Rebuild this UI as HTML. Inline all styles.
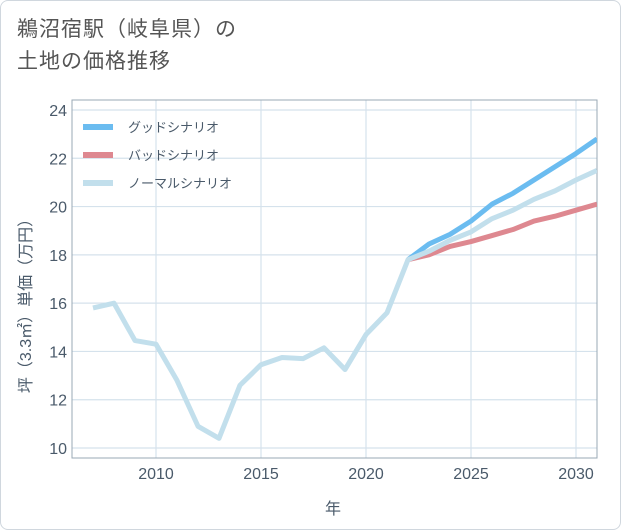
<!DOCTYPE html>
<html><head><meta charset="utf-8"><style>
body{margin:0;background:#fff;font-family:"Liberation Sans","Noto Sans CJK JP",sans-serif}
#card{position:absolute;left:0;top:0;width:619px;height:528px;border:1px solid #d0d7de;border-radius:8px;background:#fff}
#title{position:absolute;left:17px;top:14px;font-size:21px;line-height:32px;color:#555;letter-spacing:1px}
</style></head><body>
<div id="card"></div>
<div id="title">鵜沼宿駅（岐阜県）の<br>土地の価格推移</div>
<svg id="chart" width="621" height="530" style="position:absolute;left:0;top:0"></svg>
<script>
const years=[2007,2008,2009,2010,2011,2012,2013,2014,2015,2016,2017,2018,2019,2020,2021,2022,2023,2024,2025,2026,2027,2028,2029,2030,2031];
const normalValues=[15.8,16.0,14.45,14.3,12.8,10.9,10.4,12.6,13.45,13.75,13.7,14.15,13.25,14.7,15.6,17.8,18.15,18.6,18.95,19.5,19.85,20.3,20.65,21.1,21.5];
const futureYears=[2022,2023,2024,2025,2026,2027,2028,2029,2030,2031];
const goodValues=[17.8,18.45,18.85,19.4,20.1,20.55,21.1,21.65,22.2,22.8];
const badValues=[17.8,18.0,18.35,18.55,18.8,19.05,19.4,19.6,19.85,20.1];
const xTicks=[2010,2015,2020,2025,2030];
const yTicks=[10,12,14,16,18,20,22,24];
const legendLabels=["グッドシナリオ","バッドシナリオ","ノーマルシナリオ"];
const legendColors=["#6bbcf0","#de8890","#c2dfec"];
const L=72,R=597,T=100,B=458;
const x=v=>156+(v-2010)*21;
const y=v=>448-(v-10)*(338/14);
const svg=document.getElementById('chart');
const NS='http://www.w3.org/2000/svg';
function mk(t,a,p){const e=document.createElementNS(NS,t);for(const k in a)e.setAttribute(k,a[k]);(p||svg).appendChild(e);return e;}
xTicks.forEach(v=>{
 const g=mk('line',{x1:x(v),x2:x(v),y1:T,y2:B,stroke:'#d5e2ec','stroke-width':1.2});
 
 
 const t=mk('text',{x:x(v),y:B+21,'text-anchor':'middle','font-size':16,fill:'#4a5a6a'});t.textContent=v;
 
 
});
yTicks.forEach(v=>{
 const g=mk('line',{x1:L,x2:R,y1:y(v),y2:y(v),stroke:'#d5e2ec','stroke-width':1.2});
 
 
 const t=mk('text',{x:L-5,y:y(v)+6,'text-anchor':'end','font-size':16,fill:'#4a5a6a'});t.textContent=v;
 
 
});
const fr=mk('rect',{x:L,y:T,width:R-L,height:B-T,fill:'none',stroke:'#9aa8b4','stroke-width':1});


const clip=mk('clipPath',{id:'c'});mk('rect',{x:L,y:T,width:R-L,height:B-T},clip);
function line(xs,vs,c,name){
 const p=mk('polyline',{points:xs.map((d,i)=>x(d)+','+y(vs[i])).join(' '),fill:'none',stroke:c,'stroke-width':5,'stroke-linejoin':'round','clip-path':'url(#c)'});
 
 
}
line(futureYears,goodValues,legendColors[0],'good-scenario-line');
line(futureYears,badValues,legendColors[1],'bad-scenario-line');
line(years,normalValues,legendColors[2],'normal-scenario-line');
legendLabels.forEach((lab,i)=>{
 const yy=127+i*28;
 const r=mk('line',{x1:83,x2:113,y1:yy,y2:yy,stroke:legendColors[i],'stroke-width':6});
 
 
 const t=mk('text',{x:128,y:yy+5,'font-size':13,fill:'#4a5a6a'});t.textContent=lab;
 
 
});
const xt=mk('text',{x:333,y:514,'text-anchor':'middle','font-size':16,fill:'#4a5a6a'});xt.textContent='年';


const yt=mk('text',{x:0,y:0,transform:'translate(31,302) rotate(-90)','text-anchor':'middle','font-size':16,fill:'#4a5a6a'});yt.textContent='坪（3.3㎡）単価（万円）';


</script>
</body></html>
